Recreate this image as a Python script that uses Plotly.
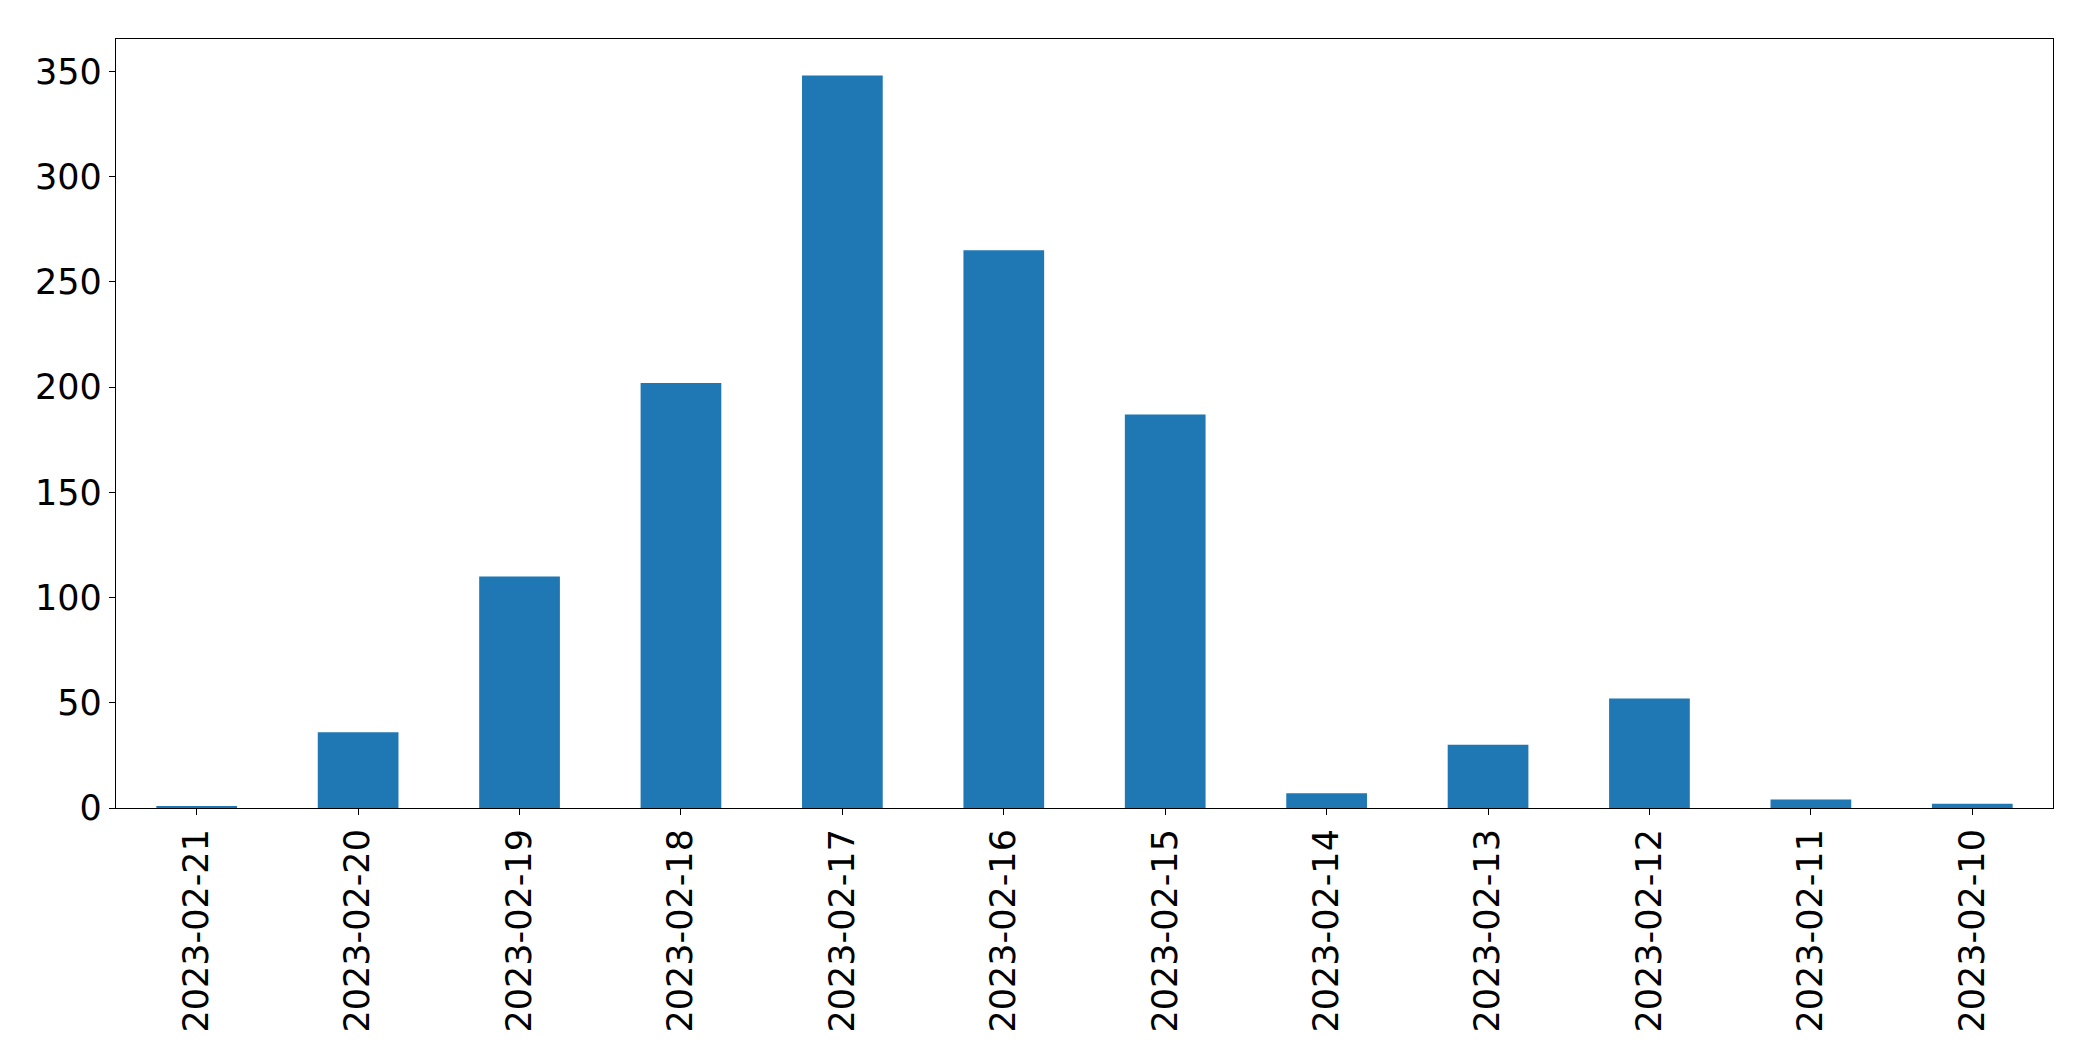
import plotly.graph_objects as go

dates = ["2023-02-21", "2023-02-20", "2023-02-19", "2023-02-18", "2023-02-17", "2023-02-16",
         "2023-02-15", "2023-02-14", "2023-02-13", "2023-02-12", "2023-02-11", "2023-02-10"]
counts = [1, 36, 110, 202, 348, 265, 187, 7, 30, 52, 4, 2]
y_ticks = [0, 50, 100, 150, 200, 250, 300, 350]

fig = go.Figure(go.Bar(x=dates, y=counts, width=0.5, marker=dict(color="#1f77b4", line=dict(width=0))))

font = dict(family="DejaVu Sans", size=35, color="black")
fig.update_layout(
    width=2093, height=1061,
    margin=dict(l=108, r=48, t=31, b=261),
    paper_bgcolor="white", plot_bgcolor="white",
    font=font, showlegend=False,
)
fig.update_xaxes(
    type="category", range=[-0.5, len(dates) - 0.5],
    tickangle=-90, ticks="outside", ticklen=6, tickwidth=1.2, tickcolor="black",
    showline=True, linecolor="black", linewidth=1.2, mirror=True,
    showgrid=False, zeroline=False, tickfont=font,
)
fig.update_yaxes(
    range=[0, max(counts) * 1.05], tickvals=y_ticks,
    ticks="outside", ticklen=6, tickwidth=1.2, tickcolor="black",
    showline=True, linecolor="black", linewidth=1.2, mirror=True,
    showgrid=False, zeroline=False, tickfont=font,
)
fig.write_html("out.html")
